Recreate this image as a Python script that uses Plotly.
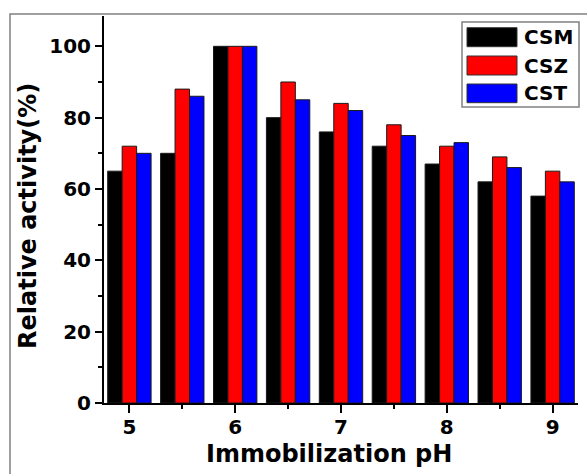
import plotly.graph_objects as go

# Immobilization pH values and relative activity (%) for each carrier
ph = [5, 5.5, 6, 6.5, 7, 7.5, 8, 8.5, 9]
csm = [65, 70, 100, 80, 76, 72, 67, 62, 58]
csz = [72, 88, 100, 90, 84, 78, 72, 69, 65]
cst = [70, 86, 100, 85, 82, 75, 73, 66, 62]

series_names = ["CSM", "CSZ", "CST"]
series_colors = ["#000000", "#FF0000", "#0000FF"]
x_ticks = [5, 6, 7, 8, 9]
x_minor = [5.5, 6.5, 7.5, 8.5]

W, H = 587, 474
ML, MR, MT, MB = 104, 9, 16, 71
PW, PH = W - ML - MR, H - MT - MB
FONT = "DejaVu Sans, Verdana, sans-serif"


def fx(px):
    """Pixel x -> paper x."""
    return (px - ML) / PW


def fy(py):
    """Pixel y (from top) -> paper y."""
    return (H - MB - py) / PH


fig = go.Figure()
for name, vals, col in zip(series_names, [csm, csz, cst], series_colors):
    fig.add_trace(go.Bar(
        x=ph, y=vals, name=name,
        marker=dict(color=col, line=dict(color="#1a1a1a", width=1)),
        showlegend=False,
    ))

shapes = [
    # outer frame
    dict(type="rect", xref="paper", yref="paper",
         x0=fx(10), x1=fx(592), y0=fy(480), y1=fy(14),
         line=dict(color="#808080", width=1.5), layer="below"),
    # legend box
    dict(type="rect", xref="paper", yref="paper",
         x0=fx(462), x1=fx(579), y0=fy(107), y1=fy(22),
         line=dict(color="#808080", width=1.5), fillcolor="white"),
]
annotations = []
rows = [(27.7, 46.7), (56, 75), (84, 102.7)]
for (t, b), name, col in zip(rows, series_names, series_colors):
    shapes.append(dict(type="rect", xref="paper", yref="paper",
                       x0=fx(467), x1=fx(517), y0=fy(b), y1=fy(t),
                       fillcolor=col, line=dict(color="#333333", width=1)))
    annotations.append(dict(xref="paper", yref="paper", x=fx(522), y=fy((t + b) / 2),
                            text=name, showarrow=False, xanchor="left", yanchor="middle",
                            font=dict(family=FONT, size=20, color="black", weight="bold")))

# axis titles
annotations.append(dict(xref="paper", yref="paper", x=fx(329), y=fy(454),
                        text="Immobilization pH", showarrow=False,
                        xanchor="center", yanchor="middle",
                        font=dict(family=FONT, size=24, color="black", weight="bold")))
annotations.append(dict(xref="paper", yref="paper", x=fx(28), y=fy(216),
                        text="Relative activity(%)", showarrow=False, textangle=-90,
                        xanchor="center", yanchor="middle",
                        font=dict(family=FONT, size=24, color="black", weight="bold")))

fig.update_layout(
    width=W, height=H,
    margin=dict(l=ML, r=MR, t=MT, b=MB),
    paper_bgcolor="white", plot_bgcolor="white",
    barmode="group", bargap=0.18, bargroupgap=0,
    shapes=shapes, annotations=annotations,
    font=dict(family=FONT, color="black"),
)
fig.update_xaxes(
    range=[4.76, 9.24], tickvals=x_ticks, ticks="outside", ticklen=8, tickwidth=2,
    tickcolor="black", showline=True, linewidth=2, linecolor="black",
    showgrid=False, zeroline=False, ticklabelstandoff=-3,
    tickfont=dict(family=FONT, size=20, color="black", weight="bold"),
    minor=dict(tickvals=x_minor, ticks="outside", ticklen=4, tickwidth=2, tickcolor="black"),
)
fig.update_yaxes(
    range=[0, 108.5], dtick=20, tick0=0, ticks="outside", ticklen=7, tickwidth=2,
    tickcolor="black", showline=True, linewidth=2, linecolor="black",
    showgrid=False, zeroline=False,
    tickfont=dict(family=FONT, size=20, color="black", weight="bold"),
    minor=dict(dtick=10, ticks="outside", ticklen=4, tickwidth=2, tickcolor="black"),
)

fig.write_html("out.html")
